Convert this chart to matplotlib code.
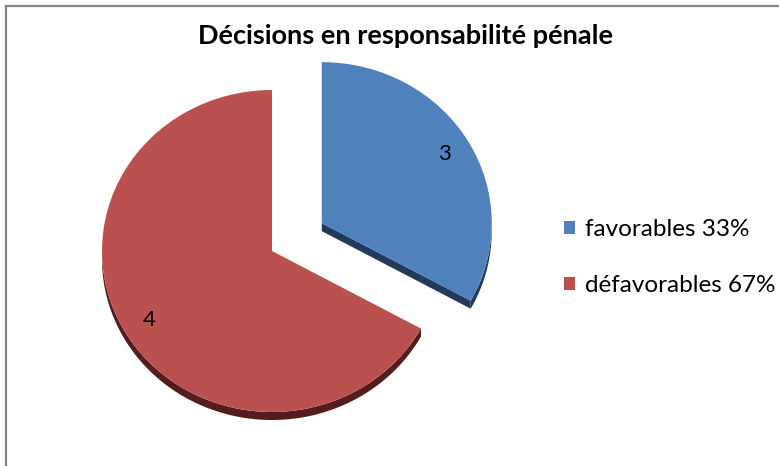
import matplotlib.pyplot as plt
from matplotlib.patches import Polygon
from matplotlib.lines import Line2D
import numpy as np

plt.rcParams['font.family'] = ['Lato', 'DejaVu Sans']

# decisions data
categories = ['favorables', 'défavorables']
shares = [33, 67]
counts = ['3', '4']
legend_labels = ['favorables 33%', 'défavorables 67%']
top_colors = ['#4F81BD', '#BA514E']
side_colors = ['#243A5C', '#541C1C']

W, H = 779, 466
cx, cy = 272, 251      # pie centre in pixels
rx, ry = 170, 161      # pixel size of the unit radius
depth = 8 / ry

fig = plt.figure(figsize=(W / 100, H / 100), dpi=100)
ax = fig.add_axes([0, 0, 1, 1])

wedges, texts = ax.pie(shares, labels=counts, colors=top_colors, startangle=90,
                       counterclock=False, explode=[0.34, 0], labeldistance=0.84,
                       textprops={'fontsize': 16, 'color': 'black'},
                       wedgeprops={'linewidth': 0, 'zorder': 3})
for t in texts:
    t.set_ha('center')
    t.set_va('center')
    t.set_zorder(5)

# side walls of the extruded pie (only faces turned to the viewer)
for w, col in zip(wedges, side_colors):
    x0, y0 = w.center
    t1, t2 = np.radians(w.theta1), np.radians(w.theta2)
    # outer rim, lower half only
    a = np.linspace(t1, t2, 300)
    a = a[np.sin(a) <= 0.02]
    if len(a) > 1:
        xs = x0 + np.cos(a)
        ys = y0 + np.sin(a)
        pts = np.vstack([np.column_stack([xs, ys]),
                         np.column_stack([xs[::-1], ys[::-1] - depth])])
        ax.add_patch(Polygon(pts, closed=True, fc=col, ec='none', zorder=2))
    # cut face at theta1 facing down-left
    ex, ey = x0 + np.cos(t1), y0 + np.sin(t1)
    if np.cos(t1) > 0 and np.sin(t1) < 0 and t2 - t1 < np.pi:
        face = [(x0, y0), (ex, ey), (ex, ey - depth), (x0, y0 - depth)]
        ax.add_patch(Polygon(face, closed=True, fc=col, ec='none', zorder=2))

ax.set_aspect('auto')
ax.set_xlim(-cx / rx, (W - cx) / rx)
ax.set_ylim((cy - H) / ry, cy / ry)
ax.axis('off')

fig.text(405 / W, 1 - 36 / H, 'Décisions en responsabilité pénale',
         ha='center', va='center', fontsize=19.5, fontweight='bold')

ax.legend(wedges, legend_labels, loc='upper left', bbox_to_anchor=(564 / W, 1 - 219 / H),
          frameon=False, fontsize=17.5, handlelength=0.45, handleheight=0.45,
          handletextpad=0.4, labelspacing=1.45, borderaxespad=0, borderpad=0)

# chart area border
fig.add_artist(Line2D([6 / W, 1], [1 - 6 / H, 1 - 6 / H], color='#868686', lw=1.6))
fig.add_artist(Line2D([6 / W, 6 / W], [0, 1 - 6 / H], color='#868686', lw=1.6))

fig.savefig('out.png', dpi=100)
